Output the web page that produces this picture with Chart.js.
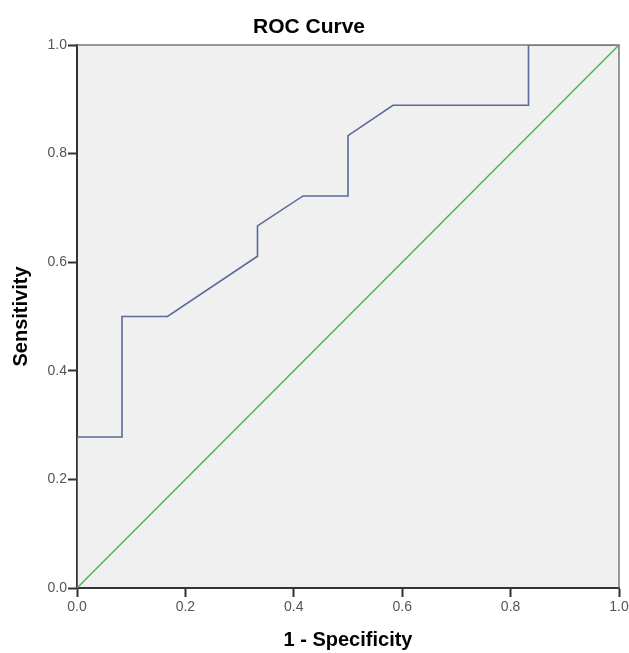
<!DOCTYPE html>
<html>
<head>
<meta charset="utf-8">
<script src="https://cdn.jsdelivr.net/npm/chart.js@4"></script>
<style>
  html, body { margin: 0; padding: 0; background: #fff; }
  #wrap { width: 629px; height: 653px; }
</style>
</head>
<body>
<div id="wrap"><canvas id="rocChart" width="629" height="653"></canvas></div>
<script>
// ROC curve points (1 - specificity, sensitivity)
const fprValues = [0, 0, 0.083, 0.083, 0.167, 0.333, 0.333, 0.417, 0.5, 0.5, 0.583, 0.833, 0.833, 1.0];
const tprValues = [0, 0.278, 0.278, 0.5, 0.5, 0.611, 0.667, 0.722, 0.722, 0.833, 0.889, 0.889, 1.0, 1.0];
// diagonal reference line
const refX = [0, 1];
const refY = [0, 1];
const tickLabels = ['0.0', '0.2', '0.4', '0.6', '0.8', '1.0'];

const rocPoints = fprValues.map((x, i) => ({ x: x, y: tprValues[i] }));
const refPoints = refX.map((x, i) => ({ x: x, y: refY[i] }));

// fondo gris del área, borde superior/derecho y título
const plotBackground = {
    id: 'plotBackground',
    beforeDraw(chart) {
        const { ctx, chartArea: a } = chart;
        ctx.save();
        ctx.fillStyle = '#f0f0f0';
        ctx.fillRect(a.left, a.top, a.right - a.left, a.bottom - a.top);
        ctx.restore();
    },
    afterDatasetsDraw(chart) {
        const { ctx, chartArea: a } = chart;
        ctx.save();
        ctx.strokeStyle = '#777';
        ctx.lineWidth = 1.5;
        ctx.beginPath();
        ctx.moveTo(a.left, a.top);
        ctx.lineTo(a.right, a.top);
        ctx.lineTo(a.right, a.bottom);
        ctx.stroke();
        ctx.restore();
    },
    afterDraw(chart) {
        const { ctx } = chart;
        ctx.save();
        ctx.fillStyle = '#000';
        ctx.font = 'bold 21px "Liberation Sans", Arial, sans-serif';
        ctx.textAlign = 'center';
        ctx.textBaseline = 'middle';
        ctx.fillText('ROC Curve', 309, 27);
        ctx.restore();
    }
};

const tickFont = { family: '"Liberation Sans", Arial, sans-serif', size: 14 };
const titleFont = { family: '"Liberation Sans", Arial, sans-serif', size: 20, weight: 'bold', lineHeight: 1.2 };

const config = {
    type: 'scatter',
    data: {
        datasets: [{
            label: 'Reference Line',
            data: refPoints,
            showLine: true,
            borderColor: '#4cb356',
            borderWidth: 1.5,
            pointRadius: 0,
            fill: false
        }, {
            label: 'ROC',
            data: rocPoints,
            showLine: true,
            borderColor: '#5a6a9c',
            borderWidth: 1.6,
            pointRadius: 0,
            fill: false
        }]
    },
    options: {
        responsive: false,
        animation: false,
        devicePixelRatio: 1,
        layout: { padding: { top: 45, right: 10, left: 0, bottom: 0 } },
        plugins: {
            legend: { display: false },
            tooltip: { enabled: false },
            title: { display: false }
        },
        scales: {
            x: {
                type: 'linear',
                min: 0,
                max: 1,
                afterFit(scale) {
                    scale.height = 65;
                    scale.paddingRight = 0;
                    scale.paddingLeft = 0;
                },
                afterBuildTicks(scale) {
                    scale.ticks = tickLabels.map(t => ({ value: parseFloat(t) }));
                },
                ticks: {
                    callback: (v) => tickLabels.find(t => parseFloat(t) === v) || v.toFixed(1),
                    color: '#555',
                    font: tickFont,
                    padding: 2,
                    maxRotation: 0
                },
                grid: {
                    drawOnChartArea: false,
                    drawTicks: true,
                    tickLength: 9,
                    tickWidth: 2,
                    tickColor: '#333'
                },
                border: { display: true, color: '#333', width: 2 },
                title: {
                    display: true,
                    text: '1 - Specificity',
                    color: '#000',
                    font: titleFont,
                    padding: { top: 0, bottom: 1 }
                }
            },
            y: {
                type: 'linear',
                min: 0,
                max: 1,
                afterFit(scale) { scale.width = 77; },
                afterBuildTicks(scale) {
                    scale.ticks = tickLabels.map(t => ({ value: parseFloat(t) }));
                },
                ticks: {
                    callback: (v) => tickLabels.find(t => parseFloat(t) === v) || v.toFixed(1),
                    color: '#555',
                    font: tickFont,
                    padding: 1
                },
                grid: {
                    drawOnChartArea: false,
                    drawTicks: true,
                    tickLength: 9,
                    tickWidth: 2,
                    tickColor: '#333'
                },
                border: { display: true, color: '#333', width: 2 },
                title: {
                    display: true,
                    text: 'Sensitivity',
                    color: '#000',
                    font: titleFont,
                    padding: { top: 9, bottom: 0 }
                }
            }
        }
    },
    plugins: [plotBackground]
};

const ctx = document.getElementById('rocChart').getContext('2d');
const rocChart = new Chart(ctx, config);
</script>
</body>
</html>
